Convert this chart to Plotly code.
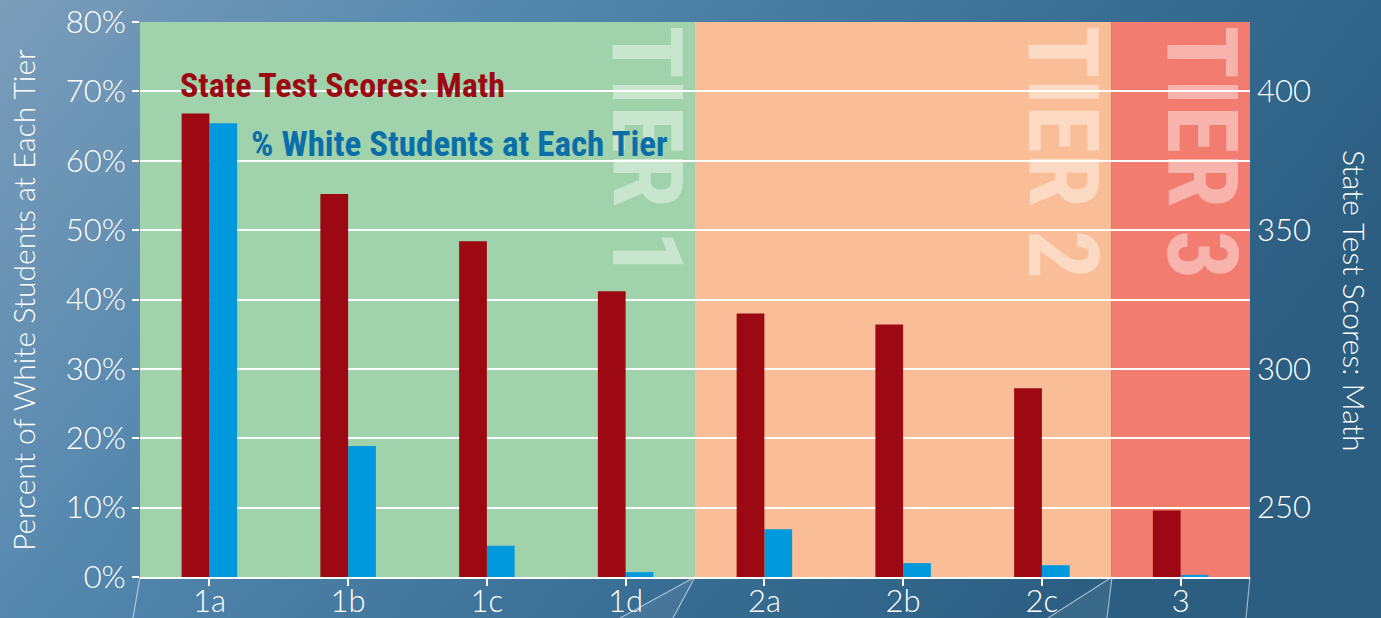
import base64
import plotly.graph_objects as go

# ---- data ----
categories = ["1a", "1b", "1c", "1d", "2a", "2b", "2c", "3"]
math_scores = [392, 363, 346, 328, 320, 316, 293, 249]          # right axis
pct_white = [65.4, 18.9, 4.5, 0.7, 6.9, 2.0, 1.7, 0.3]           # left axis (%)
tier_names = ["TIER 1", "TIER 2", "TIER 3"]
tier_spans = [(-0.5, 3.5), (3.5, 6.5), (6.5, 7.5)]
tier_colors = ["#a0d2ab", "#f9bd97", "#f37c71"]
pct_ticks = [0, 10, 20, 30, 40, 50, 60, 70, 80]
pct_labels = [f"{v}%" for v in pct_ticks]
score_ticks = [250, 300, 350, 400]

RED = "#9c0912"
BLUE = "#0099dd"
W, H = 1381, 618
L, R, T, B = 140, 131, 22, 41
PW, PH = W - L - R, H - T - B

LIGHT = "Lato, 'Open Sans', sans-serif"
TICKFONT = dict(family=LIGHT, size=31, color="white", weight=300)
COND = "'Roboto Condensed', 'Open Sans Condensed', 'DejaVu Sans Condensed', sans-serif"

# background gradient as SVG image
svg = f"""<svg xmlns='http://www.w3.org/2000/svg' width='{W}' height='{H}' preserveAspectRatio='none'>
<defs><linearGradient id='g' x1='0' y1='0' x2='1' y2='0.35'>
<stop offset='0' stop-color='#7b9dba'/>
<stop offset='0.35' stop-color='#5286ad'/>
<stop offset='0.75' stop-color='#376c92'/>
<stop offset='1' stop-color='#2b5e81'/>
</linearGradient></defs>
<rect width='{W}' height='{H}' fill='url(#g)'/></svg>"""
bg_uri = "data:image/svg+xml;base64," + base64.b64encode(svg.encode()).decode()

fig = go.Figure()
fig.add_trace(go.Bar(x=categories, y=math_scores, yaxis="y2", name="State Test Scores: Math",
                     marker=dict(color=RED, line=dict(width=0)), width=0.2, offset=-0.2))
fig.add_trace(go.Bar(x=categories, y=pct_white, yaxis="y", name="% White Students at Each Tier",
                     marker=dict(color=BLUE, line=dict(width=0)), width=0.2, offset=0.0))


def px_x(p):
    return (p - L) / PW


def px_y(p):
    return (H - B - p) / PH


shapes = []
for (a, b), c in zip(tier_spans, tier_colors):
    shapes.append(dict(type="rect", xref="x", yref="paper", x0=a, x1=b, y0=0, y1=1,
                       fillcolor=c, line=dict(width=0), layer="below"))

yb = px_y(H)
# decorative perspective lines below the axis
for top, b1, b2 in [(695, 620, 673), (1112, 1048, 1107)]:
    shapes.append(dict(type="path", xref="paper", yref="paper",
                       path=f"M {px_x(top)} 0 L {px_x(b1)} {yb} L {px_x(b2)} {yb} Z",
                       fillcolor="rgba(255,255,255,0.07)", line=dict(width=0)))
for top, bot in [(140, 133), (695, 620), (695, 673), (1112, 1048), (1112, 1107), (1250, 1246)]:
    shapes.append(dict(type="line", xref="paper", yref="paper", x0=px_x(top), y0=0,
                       x1=px_x(bot), y1=yb, line=dict(color="rgba(255,255,255,0.55)", width=1.2)))

annotations = []
for name, (a, b) in zip(tier_names, tier_spans):
    annotations.append(dict(text=f"<b>{name}</b>", x=b, xref="x", y=1, yref="paper",
                            xanchor="right", yanchor="top", xshift=11, yshift=-1,
                            textangle=90, showarrow=False,
                            font=dict(family=COND, size=98, color="rgba(255,255,255,0.42)")))
annotations.append(dict(text="<b>State Test Scores: Math</b>", x=px_x(178), y=px_y(85),
                        xref="paper", yref="paper", xanchor="left", yanchor="middle",
                        showarrow=False, font=dict(family=COND, size=34, color=RED)))
annotations.append(dict(text="<b>% White Students at Each Tier</b>", x=px_x(249), y=px_y(144),
                        xref="paper", yref="paper", xanchor="left", yanchor="middle",
                        showarrow=False, font=dict(family=COND, size=35, color="#0a6fa9")))
annotations.append(dict(text="Percent of White Students at Each Tier", x=px_x(23), y=px_y(300),
                        xref="paper", yref="paper", xanchor="center", yanchor="middle",
                        textangle=-90, showarrow=False,
                        font=dict(family=LIGHT, size=30, color="white", weight=300)))
annotations.append(dict(text="State Test Scores: Math", x=px_x(1355), y=px_y(300),
                        xref="paper", yref="paper", xanchor="center", yanchor="middle",
                        textangle=90, showarrow=False,
                        font=dict(family=LIGHT, size=30, color="white", weight=300)))

fig.update_layout(
    width=W, height=H,
    margin=dict(l=L, r=R, t=T, b=B, pad=0, autoexpand=False),
    paper_bgcolor="#4a7ea6",
    plot_bgcolor="rgba(0,0,0,0)",
    showlegend=False,
    barmode="overlay",
    images=[dict(source=bg_uri, xref="paper", yref="paper", x=-L / PW, y=1 + T / PH,
                 sizex=W / PW, sizey=H / PH, sizing="stretch", xanchor="left", yanchor="top",
                 layer="below")],
    shapes=shapes,
    annotations=annotations,
    xaxis=dict(type="category", range=[-0.5, 7.5], showgrid=False, zeroline=False,
               showline=True, linecolor="white", linewidth=2, automargin=False,
               ticks="outside", ticklen=7, tickwidth=1.5, tickcolor="white",
               ticklabelstandoff=-11, tickfont=TICKFONT, fixedrange=True),
    yaxis=dict(range=[0, 80], tickmode="array", tickvals=pct_ticks, ticktext=pct_labels,
               showgrid=True, automargin=False,
               gridcolor="white", gridwidth=2, zeroline=False, showline=False,
               ticks="outside", ticklen=7, tickwidth=2, tickcolor="white",
               tickfont=TICKFONT),
    yaxis2=dict(range=[225, 425], tickvals=score_ticks, overlaying="y", side="right",
                showgrid=False, zeroline=False, showline=False, ticks="", automargin=False,
                ticklabelstandoff=6, tickfont=TICKFONT),
)

post = "document.body.style.margin='0';document.body.style.overflow='hidden';"
fig.write_html("out.html", post_script=post, config={"displayModeBar": False})
